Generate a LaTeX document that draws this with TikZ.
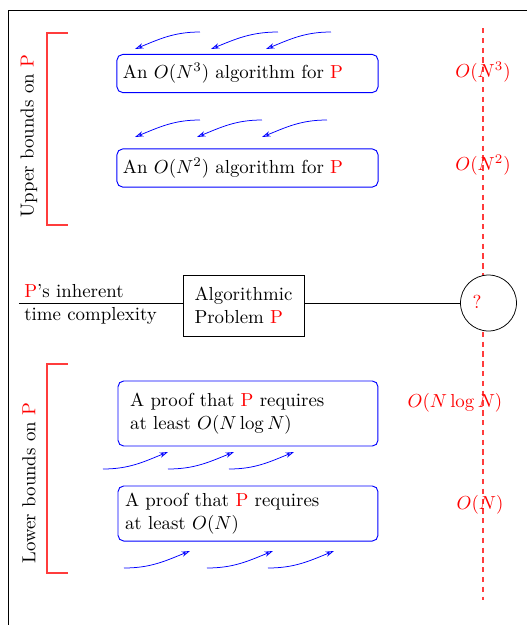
\documentclass[tikz,border=0pt]{standalone}
\usetikzlibrary{arrows.meta}
\definecolor{myred}{RGB}{255,60,60}
\begin{document}
\begin{tikzpicture}[x=0.5305pt,y=-0.5305pt,
  bbox/.style={draw=blue, line width=0.5pt, rounded corners=3pt, align=left, inner ysep=0pt},
  arr/.style={draw=blue, -{Stealth[open,length=4.5pt,width=2.8pt]}},
  brk/.style={draw=myred, line width=0.55pt},
  rlabel/.style={text=red, inner sep=1pt},
]
\useasboundingbox (0,0) rectangle (527,625);
% frame
\coordinate (fbl) at (8,625);
\coordinate (ftl) at (8,10);
\coordinate (ftr) at (527,10);
\draw (fbl) -- (ftl) -- (ftr);

% dashed scale line
\coordinate (dtop) at (483,28);
\coordinate (dbot) at (483,600);
\draw[draw=myred, line width=0.55pt, dash pattern=on 2.8pt off 2.4pt] (dtop) -- (dbot);

% complexity labels
\node[rlabel] (o3) at (483,72) {$O(N^3)$};
\node[rlabel] (o2) at (483,165) {$O(N^2)$};
\node[rlabel] (onl) at (455,403) {$O(N\log N)$};
\node[rlabel] (on) at (480,505) {$O(N)$};

% boxes
\node[bbox, minimum width=138.5pt, minimum height=20.2pt, text width=132.1pt, inner xsep=3.2pt] (u1) at (247.5,73.5)
  {An $O(N^3)$ algorithm for \textcolor{red}{P}};
\node[bbox, minimum width=138.5pt, minimum height=20.2pt, text width=132.1pt, inner xsep=3.2pt] (u2) at (247.5,168)
  {An $O(N^2)$ algorithm for \textcolor{red}{P}};
\node[bbox, minimum width=137.9pt, minimum height=34.5pt, text width=125.1pt, inner xsep=6.4pt] (l1) at (248,413.5)
  {A proof that \textcolor{red}{P} requires\\at least $O(N\log N)$};
\node[bbox, minimum width=137.9pt, minimum height=29.2pt, text width=130.5pt, inner xsep=3.7pt] (l2) at (248,513.5)
  {A proof that \textcolor{red}{P} requires\\at least $O(N)$};

% central problem
\node[draw, minimum width=64.2pt, minimum height=32.4pt, align=left, inner xsep=6pt] (alg) at (243.5,305.5)
  {Algorithmic\\Problem \textcolor{red}{P}};
\node[draw, circle, fill=white, minimum size=29.7pt, inner sep=0pt] (circ) at (488.5,303) {};
\node[text=red, inner sep=0pt] (qm) at (477,302) {?};

\coordinate (lstart) at (19,303);
\draw (lstart) -- (lstart -| alg.west);
\draw (alg.east |- lstart) -- (circ.west);

\node[anchor=base west, inner sep=0pt] (pinh) at (24,297) {\textcolor{red}{P}'s inherent};
\node[anchor=base west, inner sep=0pt] (tcx) at (24,320) {time complexity};

% brackets
\coordinate (ub1) at (68,33); \coordinate (ub2) at (47,33);
\coordinate (ub3) at (47,225); \coordinate (ub4) at (68,225);
\draw[brk] (ub1) -- (ub2) -- (ub3) -- (ub4);
\coordinate (lb1) at (68,364); \coordinate (lb2) at (47,364);
\coordinate (lb3) at (47,573); \coordinate (lb4) at (68,573);
\draw[brk] (lb1) -- (lb2) -- (lb3) -- (lb4);

\node[rotate=90] (ubl) at (29,136) {Upper bounds on \textcolor{red}{P}};
\node[rotate=90] (lbl) at (29,483) {Lower bounds on \textcolor{red}{P}};

% arrows (upper: pointing left-down)
\foreach \n/\tx/\ty/\hx/\hy in {ua/200/32/135/49, ub/278/32/211/49, uc/331/32/266/49,
                                ud/200/120/135/137, ue/262/120/197/137, uf/327/120/262/137} {
  \coordinate (\n-t) at (\tx,\ty);
  \coordinate (\n-h) at (\hx,\hy);
  \draw[arr] (\n-t) to[out=180,in=22] (\n-h);
}
% arrows (lower: pointing right-up)
\foreach \n/\tx/\ty/\hx/\hy in {la/103/469/168/452, lb/168/469/234/452, lc/229/469/294/452,
                                ld/124/568/190/551, le/207/568/273/551, lf/268/568/334/551} {
  \coordinate (\n-t) at (\tx,\ty);
  \coordinate (\n-h) at (\hx,\hy);
  \draw[arr] (\n-t) to[out=0,in=202] (\n-h);
}
\end{tikzpicture}
\end{document}
